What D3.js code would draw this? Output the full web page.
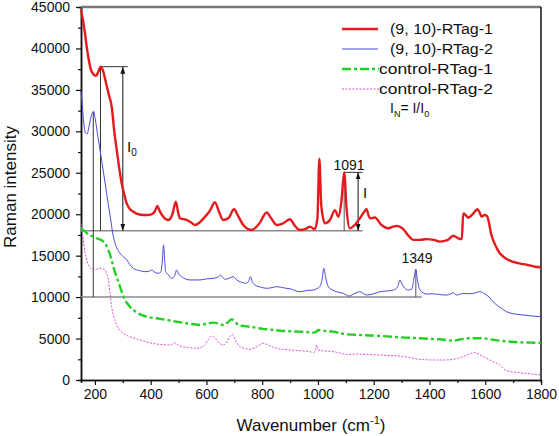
<!DOCTYPE html>
<html><head><meta charset="utf-8">
<script src="https://cdn.jsdelivr.net/npm/d3@7"></script>
<style>body{margin:0;background:#fff;}svg{display:block;font-family:"Liberation Sans",Arial,sans-serif;}</style>
</head><body><svg id="c" width="559" height="436"></svg>
<script>
const xTicks = [200,400,600,800,1000,1200,1400,1600,1800];
const yTicks = [0,5000,10000,15000,20000,25000,30000,35000,40000,45000];
const seriesNames = ["(9, 10)-RTag-1","(9, 10)-RTag-2","control-RTag-1","control-RTag-2"];

const redX = [150,158,164,170,176,185,194,204,212,220,228,240,250,260,270,278,287,296,305,314,326,338,355,373,390,403,414,424,432,445,463,478,490,498,505,520,541,559,575,595,612,630,645,660,678,699,712,732,762,790,816,832,852,875,900,915,935,960,971,988,998,1005,1012,1025,1043,1061,1073,1084,1094,1103,1114,1132,1150,1166,1174,1182,1189,1204,1228,1252,1270,1282,1306,1325,1342,1365,1390,1415,1437,1466,1485,1503,1516,1521,1530,1539,1555,1572,1580,1587,1597,1606,1612,1620,1628,1640,1652,1668,1688,1718,1748,1775,1800];
const redY = [44700,43200,41900,40300,39000,37500,36900,36700,37200,37800,37400,35800,34400,33000,29800,27800,25600,23700,22400,21300,20600,20300,20000,19900,19900,20000,20300,21000,20400,19700,19300,20000,21500,20300,19500,19400,19100,18700,19000,19700,20400,21450,20300,19300,19500,20600,19900,18700,18100,18900,20200,19500,18700,18900,19400,18700,18100,18300,18500,18200,19500,26700,21000,18900,19300,20500,19700,21500,25050,20500,18300,18700,19500,20300,20600,19800,19500,19600,18700,18300,18500,18600,18200,17400,16900,16900,17000,16900,16700,16900,17400,17100,17000,20100,19900,19600,20000,20600,20200,19700,19900,19800,19200,17800,16900,16000,15300,14800,14400,14100,13900,13700,13600];

const blueX = [150,155,160,166,172,180,188,195,201,210,218,230,242,254,266,272,284,300,314,326,338,360,380,393,403,415,427,436,442,446,450,454,459,475,486,493,500,511,541,577,600,624,640,649,657,667,683,696,708,720,744,752,758,764,774,795,816,835,852,880,900,935,960,983,1000,1007,1014,1021,1028,1037,1050,1067,1091,1112,1132,1150,1174,1200,1222,1250,1270,1285,1294,1302,1312,1324,1337,1345,1351,1357,1366,1390,1415,1437,1461,1477,1485,1497,1521,1540,1557,1581,1599,1614,1628,1643,1658,1676,1700,1736,1770,1800];
const blueY = [34800,33000,31000,29800,29700,30800,32000,32400,31500,29500,27800,25200,22500,19900,17300,16500,15600,14900,14500,13900,13470,13200,13070,13100,13270,13000,12870,13000,14500,16300,14500,13000,12870,12270,12600,13270,12800,12470,12070,12070,12200,12270,12400,12670,12400,12150,12300,12470,12100,11860,11670,12000,12470,11900,11460,11200,11060,11150,11260,11100,11000,10650,10800,10850,11100,11300,12000,13470,12300,11260,10900,10650,10450,10130,10450,10650,10250,10400,10650,10750,10850,11200,12070,11500,11060,10850,11000,12400,13350,12000,10850,10370,10400,10300,10250,10400,10530,10250,10450,10400,10450,10650,10370,10000,9450,9000,8650,8240,8000,7840,7720,7640];

const greenX = [150,165,180,195,206,218,230,240,248,257,266,278,290,300,308,322,338,360,385,420,457,490,529,555,577,600,624,645,660,675,690,700,714,740,768,790,816,840,864,900,935,960,983,995,1001,1020,1055,1080,1103,1125,1150,1190,1222,1260,1294,1330,1366,1400,1437,1465,1485,1505,1533,1560,1593,1620,1652,1690,1724,1760,1800];
const greenY = [18300,17900,17500,17300,17100,16950,16700,16300,15700,14800,13670,12400,11260,10300,9650,9000,8450,7950,7640,7450,7240,7050,6840,6720,6640,6800,6920,6800,6640,6900,7320,7100,6640,6500,6360,6250,6120,6040,5950,5880,5830,5780,5710,5850,6030,5950,5830,5650,5510,5470,5430,5370,5310,5230,5150,5090,5030,4970,4910,4800,4740,4850,5030,5040,5030,4900,4740,4620,4540,4510,4480];

const pinkX = [150,158,165,172,180,194,205,218,228,236,243,248,254,260,268,278,290,302,330,362,390,421,450,469,480,487,495,505,530,565,590,605,619,632,645,660,675,685,693,705,720,740,756,780,804,828,852,890,935,971,983,990,995,999,1010,1055,1080,1103,1150,1190,1222,1260,1294,1330,1366,1400,1437,1460,1485,1510,1533,1550,1563,1580,1605,1628,1652,1664,1676,1700,1724,1760,1800];
const pinkY = [18900,17000,15300,14300,13700,13270,13350,13470,13400,13270,12700,12070,10500,8840,7600,6640,6000,5630,5150,4830,4550,4340,4250,4220,4400,4500,4300,4100,3950,3820,4100,4800,5310,5000,4500,4220,4700,5300,5510,4700,4020,3800,3700,4000,4420,4100,3820,3650,3540,3420,3300,3500,4220,3700,3550,3420,3250,3090,3130,3060,3010,2950,2890,2700,2490,2430,2410,2420,2490,2700,3010,3200,3300,3050,2610,2200,1810,1400,1120,980,880,740,600];

// annotation values
const peakRed = [220, 37800];
const peakBlue = [194, 32400];
const peak1091 = [1094, 25050];
const peak1349 = [1351, 13350];
const baseRed = 18000;
const baseBlue = 10000;

const svg = d3.select("#c");
const L=81, R=541, T=7, B=380;
const x = d3.scaleLinear().domain([150,1800]).range([L,R]);
const y = d3.scaleLinear().domain([0,45000]).range([B,T]);

const defs = svg.append("defs");
defs.append("marker").attr("id","ah").attr("viewBox","0 0 10 10").attr("refX",10).attr("refY",5)
  .attr("markerWidth",7).attr("markerHeight",7).attr("orient","auto-start-reverse").attr("markerUnits","userSpaceOnUse")
  .append("path").attr("d","M0,1.5L10,5L0,8.5Z").attr("fill","#111");

const fmt = d3.format("d");
const xAx = svg.append("g").attr("transform",`translate(0,${B})`)
  .call(d3.axisBottom(x).tickValues(xTicks).tickFormat(fmt).tickSize(5).tickSizeOuter(0).tickPadding(4));
const xMinor = svg.append("g").attr("transform",`translate(0,${B})`)
  .call(d3.axisBottom(x).tickValues(d3.range(300,1800,200)).tickSize(3).tickFormat(""));
const yAx = svg.append("g").attr("transform",`translate(${L},0)`)
  .call(d3.axisLeft(y).tickValues(yTicks).tickFormat(fmt).tickSize(5).tickSizeOuter(0).tickPadding(6));
const yMinor = svg.append("g").attr("transform",`translate(${L},0)`)
  .call(d3.axisLeft(y).tickValues(d3.range(2500,45000,5000)).tickSize(3).tickFormat(""));
[xAx,xMinor,yAx,yMinor].forEach(g=>{g.select(".domain").attr("stroke","#111").attr("stroke-width",1.5);
  g.selectAll(".tick line").attr("stroke","#111").attr("stroke-width",1.2);
  g.selectAll("text").attr("font-size",14).attr("fill","#111").attr("font-family","Liberation Sans, Arial, sans-serif");});
svg.append("line").attr("x1",L).attr("x2",R).attr("y1",T).attr("y2",T).attr("stroke","#777").attr("stroke-width",2.5);
svg.append("line").attr("x1",R).attr("x2",R).attr("y1",T).attr("y2",B).attr("stroke","#111").attr("stroke-width",1.5);

svg.append("text").attr("x",311).attr("y",431).attr("text-anchor","middle").attr("font-size",17).attr("fill","#111")
  .html('Wavenumber (cm<tspan dy="-7" font-size="11">-1</tspan><tspan dy="7">)</tspan>');
svg.append("text").attr("transform","translate(16,187) rotate(-90)").attr("text-anchor","middle").attr("font-size",17).attr("fill","#111")
  .text("Raman intensity");

const ann = svg.append("g");
const gline=(x1,y1,x2,y2,col,w)=>ann.append("line").attr("x1",x1).attr("y1",y1).attr("x2",x2).attr("y2",y2).attr("stroke",col).attr("stroke-width",w);
gline(L,y(baseRed),x(1160),y(baseRed),"#8a8a8a",1.5);
gline(L,y(baseBlue),x(1372),y(baseBlue),"#8a8a8a",1.5);
gline(x(peakBlue[0]),y(peakBlue[1]),x(peakBlue[0]),y(baseBlue),"#333",1);
gline(x(peakRed[0]),y(peakRed[1]),x(peakRed[0]),y(baseRed),"#333",1);
gline(x(peakRed[0]),y(peakRed[1]),x(318),y(peakRed[1]),"#333",1);
gline(x(peak1091[0]),y(peak1091[1]),x(peak1091[0]),y(baseRed),"#555",1);
gline(x(peak1091[0]),y(peak1091[1]),x(1160),y(peak1091[1]),"#333",1);
gline(x(peak1349[0]),y(peak1349[1]),x(peak1349[0]),y(baseBlue),"#555",1);
ann.append("line").attr("x1",x(300)).attr("x2",x(300)).attr("y1",y(peakRed[1])).attr("y2",y(baseRed))
  .attr("stroke","#111").attr("stroke-width",1).attr("marker-start","url(#ah)").attr("marker-end","url(#ah)");
ann.append("line").attr("x1",x(1144)).attr("x2",x(1144)).attr("y1",y(peak1091[1])).attr("y2",y(baseRed))
  .attr("stroke","#111").attr("stroke-width",1).attr("marker-start","url(#ah)").attr("marker-end","url(#ah)");

const mk=(xs,ys)=>xs.map((v,i)=>[v,ys[i]]);
const line = d3.line().x(d=>x(d[0])).y(d=>y(d[1])).curve(d3.curveMonotoneX);
const styles = [
  {data:mk(redX,redY), color:"#e41a1c", w:2.4, dash:null},
  {data:mk(blueX,blueY), color:"#4a4ad8", w:1, dash:null},
  {data:mk(greenX,greenY), color:"#22d022", w:2.4, dash:"9,3,3,3"},
  {data:mk(pinkX,pinkY), color:"#d94fd9", w:1, dash:"2,1.5"}
];
styles.slice().reverse().forEach(s=>{
  svg.append("path").attr("d",line(s.data)).attr("fill","none").attr("stroke",s.color).attr("stroke-width",s.w)
    .attr("stroke-dasharray",s.dash).attr("stroke-linejoin","round");
});

svg.append("text").attr("x",127).attr("y",152).attr("font-size",15).attr("fill","#111")
  .html('I<tspan dy="4" font-size="10">0</tspan>');
svg.append("text").attr("x",363).attr("y",198).attr("font-size",15).attr("fill","#111").text("I");
svg.append("text").attr("x",349).attr("y",170).attr("text-anchor","middle").attr("font-size",14).attr("fill","#111").text("1091");
svg.append("text").attr("x",417).attr("y",263).attr("text-anchor","middle").attr("font-size",14).attr("fill","#111").text("1349");

const lg = svg.append("g");
const legY=[29,49,69,89], legTx=[390,390,379,379], legW=[103,103,114,114];
styles.forEach((s,i)=>{
  lg.append("line").attr("x1",342).attr("x2",i<2?378:379).attr("y1",legY[i]).attr("y2",legY[i])
    .attr("stroke",s.color).attr("stroke-width",s.w).attr("stroke-dasharray",s.dash);
  lg.append("text").attr("x",legTx[i]).attr("y",legY[i]+5).attr("font-size",14).attr("fill","#111")
    .attr("textLength",legW[i]).attr("lengthAdjust","spacingAndGlyphs").text(seriesNames[i]);
});
lg.append("text").attr("x",390).attr("y",113).attr("font-size",14).attr("fill","#111")
  .html('I<tspan dy="4" font-size="9">N</tspan><tspan dy="-4">= I/I</tspan><tspan dy="4" font-size="9">0</tspan>');
</script></body></html>
